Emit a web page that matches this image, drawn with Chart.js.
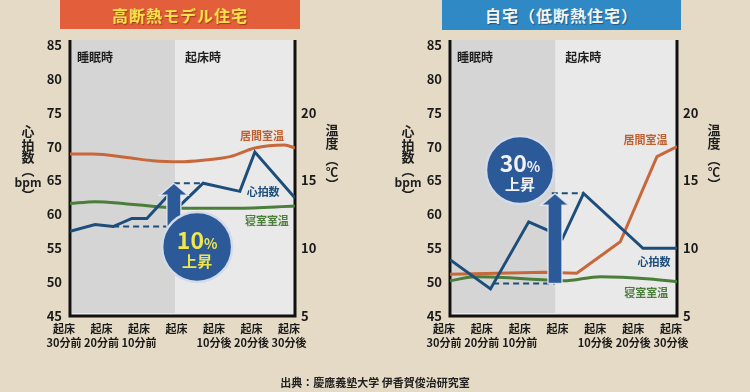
<!DOCTYPE html>
<html lang="ja">
<head>
<meta charset="utf-8">
<script src="https://cdn.jsdelivr.net/npm/chart.js@4.4.0/dist/chart.umd.min.js"></script>
<style>
  html, body { margin: 0; padding: 0; }
  body {
    width: 750px; height: 392px; position: relative; overflow: hidden;
    background: #e4dac6;
    font-family: "Noto Sans CJK JP", sans-serif;
  }
  canvas { position: absolute; top: 0; }
  .bar {
    position: absolute; top: 0; height: 30px; line-height: 30px;
    text-align: center; font-size: 16px; font-weight: bold; letter-spacing: 1px;
  }
  #barA { left: 60px; width: 240px; height: 29px; background: #e35e3b; color: #fbe04b; text-shadow: 1px 1px 1px #9c3a1e; }
  #barB { left: 442px; width: 239px; background: #2f89c5; color: #f4f4f4; text-shadow: 1px 1px 1px #1d5a86; }
  #src {
    position: absolute; left: 0; width: 750px; top: 374px;
    text-align: center; font-size: 11px; font-weight: bold; color: #222;
  }
</style>
</head>
<body>
<div class="bar" id="barA">高断熱モデル住宅</div>
<div class="bar" id="barB">自宅（低断熱住宅）</div>
<canvas id="chartA" width="375" height="392" style="left:0"></canvas>
<canvas id="chartB" width="375" height="392" style="left:375px"></canvas>
<div id="src">出典：慶應義塾大学 伊香賀俊治研究室</div>

<script>
// x axis: minutes relative to getting up
const xTicks = [-30, -20, -10, 0, 10, 20, 30];
const xLabels = [["起床", "30分前"], ["起床", "20分前"], ["起床", "10分前"], ["起床"],
                 ["起床", "10分後"], ["起床", "20分後"], ["起床", "30分後"]];
const hrTicks = [45, 50, 55, 60, 65, 70, 75, 80, 85];
const tempTicks = [5, 10, 15, 20];

// 高断熱モデル住宅
const modelHrMin = [-30, -23.3, -18.5, -13.5, -9.5, -3.5, -0.5, 5.5, 15.3, 19.3, 30];
const modelHr = [57.5, 58.5, 58.2, 59.4, 59.4, 63.0, 61.4, 64.6, 63.4, 69.2, 62.4];
const modelLivingMin = [-30, -23.9, -14.8, -7.9, -0.7, 5.5, 12.7, 19.3, 27.2, 30];
const modelLiving = [16.95, 16.95, 16.7, 16.46, 16.39, 16.5, 16.76, 17.4, 17.62, 17.4];
const modelBedMin = [-30, -23.3, -14.8, -8.7, -4.7, 0, 14.4, 30];
const modelBed = [13.3, 13.44, 13.27, 13.12, 13.02, 12.95, 12.95, 13.12];
const modelRise = [58.2, 64.6];   // 10% 上昇

// 自宅（低断熱住宅）
const homeHrMin = [-30, -19.3, -9.2, -4.4, -0.3, 5.3, 21, 30];
const homeHr = [53.3, 49.0, 58.9, 57.7, 56.4, 63.1, 55.0, 55.0];
const homeLivingMin = [-30, -5, 3.5, 15, 24.7, 30];
const homeLiving = [8.08, 8.23, 8.15, 10.48, 16.76, 17.5];
const homeBedMin = [-30, -23, -4.4, 0, 9.7, 22.9, 30];
const homeBed = [7.6, 7.9, 7.66, 7.6, 7.9, 7.73, 7.53];
const homeRise = [49.8, 63.1];    // 30% 上昇

const BLUE = "#1d4e7b", ORANGE = "#c8683a", GREEN = "#4b7d3b";

Chart.defaults.font.family = '"Noto Sans CJK JP", sans-serif';

function pts(xs, ys) {
  return xs.map((m, i) => ({ x: m, y: ys[i] }));
}

function drawArrow(ctx, x, yTip, yBase, shaftW, headW, headH) {
  ctx.beginPath();
  ctx.moveTo(x, yTip);
  ctx.lineTo(x + headW / 2, yTip + headH);
  ctx.lineTo(x + shaftW / 2, yTip + headH);
  ctx.lineTo(x + shaftW / 2, yBase);
  ctx.lineTo(x - shaftW / 2, yBase);
  ctx.lineTo(x - shaftW / 2, yTip + headH);
  ctx.lineTo(x - headW / 2, yTip + headH);
  ctx.closePath();
  ctx.fillStyle = "#2c5a98";
  ctx.fill();
  ctx.strokeStyle = "rgba(235,240,248,0.8)";
  ctx.lineWidth = 1.5;
  ctx.stroke();
}

const panelPlugin = {
  id: "panel",
  beforeDatasetsDraw(chart, args, o) {
    const { ctx, chartArea: a, scales } = chart;
    const top = a.top - 5;
    const split = scales.x.getPixelForValue(o.split);
    ctx.save();
    ctx.fillStyle = "#e9e9e9";
    ctx.fillRect(a.left, top, a.right - a.left, a.bottom - top);
    ctx.fillStyle = "#d5d5d5";
    ctx.fillRect(a.left + 2, top, split - a.left - 2, a.bottom - top - 3);

    ctx.strokeStyle = "#111";
    ctx.lineWidth = 3;
    ctx.beginPath();
    ctx.moveTo(a.left, top);
    ctx.lineTo(a.left, a.bottom);
    ctx.lineTo(a.right, a.bottom);
    ctx.lineTo(a.right, top);
    ctx.stroke();

    ctx.fillStyle = "#1e1e1e";
    ctx.font = 'bold 12px "Noto Sans CJK JP"';
    ctx.textBaseline = "middle";
    ctx.textAlign = "left";
    ctx.fillText("睡眠時", a.left + 7, a.top + 12);
    ctx.fillText("起床時", split + 10, a.top + 12);

    // axis titles, stacked vertically
    ctx.textAlign = "center";
    const lx = a.left - 42, rx = a.right + 37;
    [["心", 86, 13], ["拍", 100, 13], ["数", 112, 13], ["︵", 125, 13], ["bpm", 137, 12], ["︶", 150, 13]]
      .forEach(([t, dy, s]) => { ctx.font = `bold ${s}px "Noto Sans CJK JP"`; ctx.fillText(t, lx, a.top + dy); });
    [["温", 85, 13], ["度", 98, 13], ["︵", 114, 13], ["℃", 127, 12], ["︶", 139, 13]]
      .forEach(([t, dy, s]) => { ctx.font = `bold ${s}px "Noto Sans CJK JP"`; ctx.fillText(t, rx, a.top + dy); });
    ctx.restore();
  },
  afterDatasetsDraw(chart, args, o) {
    const { ctx, scales } = chart;
    const x = scales.x, y = scales.yL;
    ctx.save();

    // dashed guides for the rise
    ctx.strokeStyle = BLUE;
    ctx.lineWidth = 2;
    ctx.setLineDash([6, 4]);
    o.dashes.forEach(d => {
      const py = y.getPixelForValue(d.v);
      ctx.beginPath();
      ctx.moveTo(x.getPixelForValue(d.from), py);
      ctx.lineTo(x.getPixelForValue(d.to), py);
      ctx.stroke();
    });
    ctx.setLineDash([]);

    // line labels
    ctx.font = 'bold 11px "Noto Sans CJK JP"';
    ctx.textAlign = "center";
    ctx.textBaseline = "middle";
    o.notes.forEach(n => {
      ctx.fillStyle = n.color;
      ctx.fillText(n.text, x.getPixelForValue(n.x), y.getPixelForValue(n.y));
    });

    // arrow
    const ar = o.arrow;
    const ax = x.getPixelForValue(ar.x);
    drawArrow(ctx, ax, y.getPixelForValue(ar.to), y.getPixelForValue(ar.from), 14, 28, 12);

    // badge
    const b = o.badge;
    const cx = x.getPixelForValue(b.x), cy = y.getPixelForValue(b.y);
    ctx.beginPath();
    ctx.arc(cx, cy, b.r, 0, Math.PI * 2);
    ctx.fillStyle = "#2c5a98";
    ctx.fill();
    ctx.strokeStyle = "#d3dbe8";
    ctx.lineWidth = 2.5;
    ctx.stroke();

    ctx.fillStyle = b.color;
    ctx.font = 'bold 23px "Noto Sans CJK JP"';
    const w1 = ctx.measureText(b.pct).width;
    ctx.font = 'bold 14px "Noto Sans CJK JP"';
    const w2 = ctx.measureText("%").width;
    const sx = cx - (w1 + w2) / 2;
    ctx.textAlign = "left";
    ctx.textBaseline = "alphabetic";
    ctx.font = 'bold 23px "Noto Sans CJK JP"';
    ctx.fillText(b.pct, sx, cy + 2);
    ctx.font = 'bold 14px "Noto Sans CJK JP"';
    ctx.fillText("%", sx + w1, cy + 2);
    ctx.textAlign = "center";
    ctx.textBaseline = "middle";
    ctx.font = 'bold 15px "Noto Sans CJK JP"';
    ctx.fillText("上昇", cx, cy + 14);
    ctx.restore();
  }
};

function makeChart(id, cfg) {
  const fix = v => ({ value: v });
  return new Chart(document.getElementById(id), {
    type: "line",
    data: {
      datasets: [
        { data: pts(cfg.hrMin, cfg.hr), yAxisID: "yL", borderColor: BLUE, borderWidth: 3, tension: 0 },
        { data: pts(cfg.livingMin, cfg.living), yAxisID: "yR", borderColor: ORANGE, borderWidth: 3,
          cubicInterpolationMode: cfg.smoothLiving ? "monotone" : "default", tension: 0 },
        { data: pts(cfg.bedMin, cfg.bed), yAxisID: "yR", borderColor: GREEN, borderWidth: 3,
          cubicInterpolationMode: "monotone" }
      ]
    },
    options: {
      responsive: false,
      animation: false,
      layout: { padding: { top: 45, left: 0, right: 0, bottom: 0 } },
      elements: { point: { radius: 0 } },
      plugins: {
        legend: { display: false },
        tooltip: { enabled: false },
        panel: cfg.panel
      },
      scales: {
        x: {
          type: "linear", min: -30, max: 30,
          afterBuildTicks: s => { s.ticks = xTicks.map(fix); },
          afterFit: s => { s.height = 76; },
          grid: { display: false, drawTicks: false },
          border: { display: false },
          ticks: {
            autoSkip: false, maxRotation: 0, padding: 6, labelOffset: -6,
            color: "#1a1a1a", font: { size: 11, weight: "bold", lineHeight: 1.25 },
            callback: v => xLabels[xTicks.indexOf(v)]
          }
        },
        yL: {
          position: "left", min: 45, max: 85,
          afterBuildTicks: s => { s.ticks = hrTicks.map(fix); },
          afterFit: s => { s.width = cfg.left; },
          grid: { display: false, drawTicks: false },
          border: { display: false },
          ticks: { padding: 8, color: "#1a1a1a", font: { size: 13, weight: "bold" } }
        },
        yR: {
          position: "right", min: 5, max: 25,
          afterBuildTicks: s => { s.ticks = tempTicks.map(fix); },
          afterFit: s => { s.width = cfg.rightW; },
          grid: { display: false, drawTicks: false },
          border: { display: false },
          ticks: { padding: 6, color: "#1a1a1a", font: { size: 13, weight: "bold" } }
        }
      }
    },
    plugins: [panelPlugin]
  });
}

makeChart("chartA", {
  left: 70, rightW: 80,
  hrMin: modelHrMin, hr: modelHr,
  livingMin: modelLivingMin, living: modelLiving, smoothLiving: true,
  bedMin: modelBedMin, bed: modelBed,
  panel: {
    split: -2,
    dashes: [{ v: modelRise[0], from: -18.5, to: -3.9 }, { v: modelRise[1], from: -2.3, to: 5.5 }],
    arrow: { x: -2.3, from: modelRise[0], to: modelRise[1] },
    badge: { x: 3.9, y: 55.2, r: 35, pct: "10", color: "#f1e64c" },
    notes: [
      { text: "居間室温", x: 21.2, y: 71.6, color: "#c0602f" },
      { text: "心拍数", x: 21.5, y: 63.35, color: BLUE },
      { text: "寝室室温", x: 22.5, y: 59.0, color: GREEN }
    ]
  }
});

makeChart("chartB", {
  left: 75, rightW: 73,
  hrMin: homeHrMin, hr: homeHr,
  livingMin: homeLivingMin, living: homeLiving, smoothLiving: false,
  bedMin: homeBedMin, bed: homeBed,
  panel: {
    split: -2.2,
    dashes: [{ v: homeRise[0], from: -18.6, to: -2.25 }, { v: homeRise[1], from: -3.1, to: 5.3 }],
    arrow: { x: -2.25, from: homeRise[0], to: homeRise[1] },
    badge: { x: -11.5, y: 66.55, r: 34, pct: "30", color: "#f2f2f2" },
    notes: [
      { text: "居間室温", x: 21.7, y: 71.0, color: "#c0602f" },
      { text: "心拍数", x: 23.9, y: 53.0, color: BLUE },
      { text: "寝室室温", x: 21.9, y: 48.4, color: GREEN }
    ]
  }
});
</script>
</body>
</html>
